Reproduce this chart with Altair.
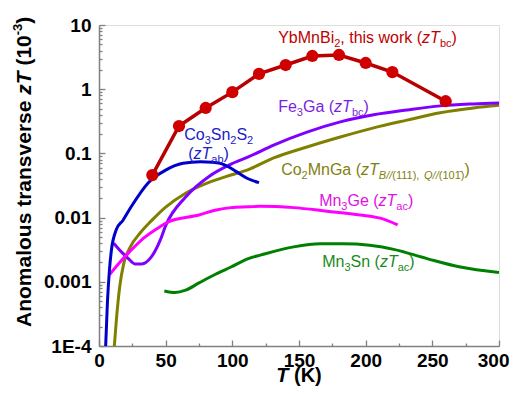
import altair as alt
import pandas as pd

# ---------------- data ----------------
yb_T = [40, 60, 80, 100, 120, 140, 160, 180, 200, 220, 260]
yb_v = [0.046, 0.267, 0.51, 0.90, 1.73, 2.38, 3.29, 3.41, 2.56, 1.85, 0.65]

co3_T = [5, 6.3, 7.8, 9.3, 13, 18, 24, 37, 50, 63, 76, 85, 91, 97, 103, 111, 120]
co3_v = [1e-4, 4.7e-4, 0.0015, 0.0031, 0.0065, 0.0091, 0.0146, 0.035, 0.055, 0.070,
         0.074, 0.073, 0.070, 0.062, 0.052, 0.041, 0.035]

fe_T = [11, 17, 22, 27, 32, 39, 46, 50, 65, 82, 99, 112, 131, 156, 181, 206, 231, 256, 281, 300]
fe_v = [0.0040, 0.0029, 0.0023, 0.0019, 0.0019, 0.0024, 0.0045, 0.0075, 0.021, 0.043,
        0.068, 0.088, 0.135, 0.215, 0.31, 0.40, 0.475, 0.55, 0.59, 0.61]

co2_T = [11.5, 13, 15.5, 18.5, 23.5, 31, 39, 50, 65, 82, 99, 112, 131, 156, 181, 206, 231, 256, 281, 300]
co2_v = [1e-4, 2.5e-4, 8.3e-4, 0.0019, 0.0035, 0.0058, 0.0088, 0.0146, 0.024, 0.035,
         0.046, 0.056, 0.085, 0.126, 0.18, 0.25, 0.33, 0.43, 0.51, 0.56]

ge_T = [8, 14.5, 22, 32, 42.5, 52, 75, 87, 99, 112, 121, 146, 171, 196, 211, 224]
ge_v = [0.0013, 0.0019, 0.0028, 0.0045, 0.0065, 0.0086, 0.011, 0.013, 0.0143, 0.0147,
        0.015, 0.0143, 0.0126, 0.011, 0.0098, 0.0077]

sn_T = [49, 57, 65, 75, 87, 99, 112, 121, 146, 166, 183, 203, 221, 246, 271, 300]
sn_v = [7.2e-4, 6.8e-4, 7.4e-4, 9.6e-4, 0.0013, 0.0017, 0.0023, 0.0026, 0.0035, 0.0039,
        0.0039, 0.0037, 0.0032, 0.0023, 0.0017, 0.0014]

x_ticks = [0, 50, 100, 150, 200, 250, 300]
x_minor = [25, 75, 125, 175, 225, 275]
y_ticks = [1e-4, 1e-3, 1e-2, 1e-1, 1, 10]
y_minor = [m * 10 ** e for e in range(-4, 1) for m in range(2, 10)]

# label pieces: (text, kind) kind: n normal, i italic, s subscript, si italic subscript
lab_yb = [("YbMnBi", "n"), ("2", "s"), (", this work (", "n"), ("zT", "i"), ("bc", "s"), (")", "n")]
lab_fe = [("Fe", "n"), ("3", "s"), ("Ga (", "n"), ("zT", "i"), ("bc", "s"), (")", "n")]
lab_co3a = [("Co", "n"), ("3", "s"), ("Sn", "n"), ("2", "s"), ("S", "n"), ("2", "s")]
lab_co3b = [("(", "n"), ("zT", "i"), ("ab", "s"), (")", "n")]
lab_co2 = [("Co", "n"), ("2", "s"), ("MnGa (", "n"), ("zT", "i"), ("B//", "si"), ("(111), ", "s"),
           ("Q//", "si"), ("(101\u0304)", "s"), (")", "n")]
lab_ge = [("Mn", "n"), ("3", "s"), ("Ge (", "n"), ("zT", "i"), ("ac", "s"), (")", "n")]
lab_sn = [("Mn", "n"), ("3", "s"), ("Sn (", "n"), ("zT", "i"), ("ac", "s"), (")", "n")]

# anchors (T, value) of label baselines
anchors = [
    (lab_yb, 134.4, 5.24, "#C00000"),
    (lab_fe, 134.4, 0.44, "#7A1FE0"),
    (lab_co3a, 63.9, 0.162, "#2020C8"),
    (lab_co3b, 66.9, 0.083, "#2020C8"),
    (lab_co2, 136.6, 0.046, "#7F7F10"),
    (lab_ge, 165.1, 0.0152, "#E010E0"),
    (lab_sn, 167.4, 0.0017, "#1A8A1A"),
]

# ---------------- layout ----------------
W, H = 400, 321
FONT = "Liberation Sans"
MAIN, SUB = 16, 11
PX_PER_DEC = H / 5.0

REG = {' ': 278, '(': 333, ')': 333, ',': 278, '-': 333, '.': 278, '/': 278,
       'A': 667, 'B': 667, 'C': 722, 'F': 611, 'G': 778, 'K': 667, 'M': 833, 'Q': 778,
       'S': 667, 'T': 611, 'Y': 667, 'a': 556, 'b': 556, 'c': 500, 'e': 556, 'h': 556,
       'i': 222, 'k': 500, 'l': 222, 'm': 833, 'n': 556, 'o': 556, 'r': 333, 's': 500,
       't': 278, 'u': 556, 'v': 500, 'w': 722, 'z': 500, '\u0304': 0}
for d in "0123456789":
    REG[d] = 556


def width(text, size):
    return sum(REG.get(c, 556) for c in text) * size / 1000.0


rows = []
for pieces, T0, v0, col in anchors:
    xpx = 0.0
    for text, kind in pieces:
        sub = kind.startswith("s")
        size = SUB if sub else MAIN
        drop = 4 if sub else 0
        lead = len(text) - len(text.lstrip(" "))
        xpx += width(" " * lead, size)
        body = text.lstrip(" ")
        rows.append(dict(text=body, T=T0 + xpx * 300.0 / W,
                         v=v0 * 10 ** (-drop / PX_PER_DEC), size=size, color=col,
                         italic=kind.endswith("i")))
        xpx += width(body, size)
labels = pd.DataFrame(rows)

xs = alt.Scale(domain=[0, 300], nice=False, zero=False)
ys = alt.Scale(type="log", domain=[1e-4, 10], nice=False)

curves = [
    ("Co2MnGa", co2_T, co2_v, "#808000"),
    ("Fe3Ga", fe_T, fe_v, "#8000FF"),
    ("Mn3Ge", ge_T, ge_v, "#FF00FF"),
    ("Mn3Sn", sn_T, sn_v, "#008000"),
    ("Co3Sn2S2", co3_T, co3_v, "#0000CC"),
]

allpts = pd.concat([pd.DataFrame({"T": t, "v": v}) for _, t, v, _ in curves], ignore_index=True)

base_axis = dict(title=None, grid=False, labelFont=FONT, labelFontSize=19,
                 labelFontWeight="bold", labelColor="black", domainColor="#808080",
                 domainWidth=1.5, ticks=False)

frame = alt.Chart(allpts).mark_point(opacity=0).encode(
    x=alt.X("T:Q", scale=xs, axis=alt.Axis(values=x_ticks[:-1], orient="bottom", labelPadding=5,
                                            labelFlush=False, **base_axis)),
    y=alt.Y("v:Q", scale=ys, axis=alt.Axis(values=y_ticks, orient="left", labelPadding=8,
                                            labelExpr="datum.value < 0.0005 ? '1E-4' : format(datum.value, '~g')",
                                            **base_axis)),
)

# last x label kept inside the page
last_lab = alt.Chart(allpts).mark_point(opacity=0).encode(
    x=alt.X("T:Q", scale=xs, axis=alt.Axis(values=x_ticks[-1:], orient="bottom", labelPadding=5,
                                            labelFlush=False, labelAlign="right", labelOffset=10,
                                            title=None, grid=False, labelFont=FONT,
                                            labelFontSize=19, labelFontWeight="bold",
                                            labelColor="black", domain=False, ticks=False)),
)


def tick_layer(xv, yv, size):
    ax = dict(title=None, grid=False, labels=False, domain=False, tickColor="#808080",
              tickWidth=1.3, tickSize=size, offset=-size)
    return alt.Chart(allpts).mark_point(opacity=0).encode(
        x=alt.X("T:Q", scale=xs, axis=alt.Axis(values=xv, orient="bottom", **ax)),
        y=alt.Y("v:Q", scale=ys, axis=alt.Axis(values=yv, orient="left", **ax)),
    )


layers = [frame, last_lab, tick_layer(x_ticks, y_ticks, 6), tick_layer(x_minor, y_minor, 3)]

for name, t, v, col in curves:
    layers.append(
        alt.Chart(pd.DataFrame({"T": t, "v": v})).mark_line(
            color=col, strokeWidth=3, interpolate="monotone", clip=True
        ).encode(x=alt.X("T:Q", scale=xs, axis=None), y=alt.Y("v:Q", scale=ys, axis=None))
    )

yb = pd.DataFrame({"T": yb_T, "v": yb_v})
layers.append(alt.Chart(yb).mark_line(color="#B80000", strokeWidth=3.5).encode(
    x=alt.X("T:Q", scale=xs, axis=None), y=alt.Y("v:Q", scale=ys, axis=None)))
layers.append(alt.Chart(yb).mark_circle(color="#D00000", size=150, opacity=1).encode(
    x=alt.X("T:Q", scale=xs, axis=None), y=alt.Y("v:Q", scale=ys, axis=None)))

for ital in (False, True):
    layers.append(
        alt.Chart(labels[labels["italic"] == ital]).mark_text(
            align="left", baseline="alphabetic", font=FONT,
            fontStyle="italic" if ital else "normal"
        ).encode(
            x=alt.X("T:Q", scale=xs, axis=None), y=alt.Y("v:Q", scale=ys, axis=None),
            text="text:N", color=alt.Color("color:N", scale=None),
            size=alt.Size("size:Q", scale=None),
        )
    )

# axis titles (mixed italic / upright pieces)
one = pd.DataFrame({"a": [0]})
TS = 21
XTS = 20
BOLD = {'A': 722, 'n': 611, 'o': 611, 'm': 889, 'a': 556, 'l': 278, 'u': 611, 's': 556,
        ' ': 278, 't': 333, 'r': 389, 'v': 556, 'e': 556, 'z': 500, 'T': 611,
        '(': 333, ')': 333, '1': 556, '0': 556, '-': 333, '3': 556, 'K': 722}


def bw(text, size):
    return sum(BOLD.get(c, 556) for c in text) * size / 1000.0


ytitle = [("Anomalous transverse ", "normal", TS, 0), ("zT", "italic", TS, 0),
          (" (10", "normal", TS, 0), ("-3", "normal", 13, -7), (")", "normal", TS, 0)]
ypos = 302.0
for text, style, fs, shift in ytitle:
    lead = len(text) - len(text.lstrip(" "))
    ypos -= bw(" " * lead, fs)
    body = text.lstrip(" ")
    layers.append(alt.Chart(one).mark_text(
        text=body, angle=270, align="left", baseline="middle", font=FONT,
        fontWeight="bold", fontStyle=style, fontSize=fs, color="black"
    ).encode(x=alt.value(-73.7 + shift), y=alt.value(ypos)))
    ypos -= bw(body, fs)

xt = [("T", "italic"), (" (K)", "normal")]
xpos = W / 2 - (bw("T (K)", XTS)) / 2
for text, style in xt:
    lead = len(text) - len(text.lstrip(" "))
    xpos += bw(" " * lead, XTS)
    body = text.lstrip(" ")
    layers.append(alt.Chart(one).mark_text(
        text=body, align="left", baseline="alphabetic", font=FONT,
        fontWeight="bold", fontStyle=style, fontSize=XTS, color="black"
    ).encode(x=alt.value(xpos), y=alt.value(H + 36)))
    xpos += bw(body, XTS)

chart = alt.layer(*layers).resolve_axis(x="independent", y="independent").properties(
    width=W, height=H,
    autosize=alt.AutoSizeParams(type="none"),
    padding={"left": 91, "top": 17, "right": 10, "bottom": 40},
).configure_view(stroke="#808080", strokeWidth=1.5).configure(font=FONT)

chart.save("out.html", embed_options={"renderer": "svg", "actions": False})
